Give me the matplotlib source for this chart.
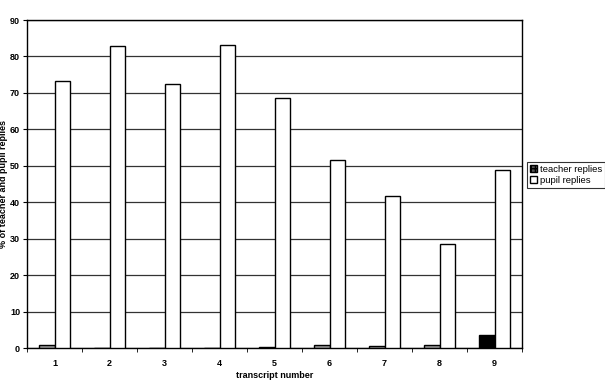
import matplotlib
matplotlib.use("Agg")
import matplotlib.pyplot as plt
import numpy as np

plt.rcParams['font.family'] = ['Liberation Sans', 'DejaVu Sans']

categories = ['1', '2', '3', '4', '5', '6', '7', '8', '9']
teacher = [0.8, 0.0, 0.0, 0.0, 0.3, 0.8, 0.5, 0.7, 3.7]
pupil = [73.2, 82.8, 72.4, 83.2, 68.5, 51.7, 41.8, 28.5, 48.9]
yticks = [0, 10, 20, 30, 40, 50, 60, 70, 80, 90]

fig = plt.figure(figsize=(6.05, 3.8), dpi=100)
ax = fig.add_axes([27/605, 1-348/380, (522-27)/605, (348-20)/380])

x = np.arange(len(categories))
w = 0.29
tcolors = ['#999999'] * 8 + ['#000000']
ax.bar(x - w/2, teacher, w, color=tcolors, edgecolor='black', linewidth=1.0, zorder=3,
       label='teacher replies')
ax.bar(x + w/2, pupil, w, color='white', edgecolor='black', linewidth=1.0, zorder=3,
       label='pupil replies')

ax.set_xlim(-0.5, len(categories) - 0.5)
ax.set_ylim(0, 90)
ax.set_yticks(yticks)
ax.set_yticklabels([str(v) for v in yticks], fontsize=6.5, fontweight='bold')
ax.set_xticks(x)
ax.set_xticklabels(categories, fontsize=6.5, fontweight='bold')
ax.tick_params(axis='x', length=0, pad=8)
ax.set_xticks(np.arange(-0.5, len(categories), 1), minor=True)
ax.tick_params(axis='x', which='minor', length=3, direction='out')
ax.tick_params(axis='y', length=3, direction='out', pad=2)
ax.yaxis.grid(True, color='#333333', linewidth=0.9, zorder=0)
ax.set_axisbelow(True)
for s in ax.spines.values():
    s.set_linewidth(1.0)
    s.set_color('black')

ax.set_xlabel('transcript number', fontsize=6.5, fontweight='bold')
ax.xaxis.set_label_coords(0.5, -0.07)
ax.xaxis.label.set_va('top')
ax.set_ylabel('% of teacher and pupil replies', fontsize=6.5, fontweight='bold')
ax.yaxis.set_label_coords(-0.038, 0.5)

leg = fig.legend(loc='upper left', bbox_to_anchor=(527/605, 1-162/380), fontsize=6.8,
                 frameon=True, fancybox=False, edgecolor='black', handlelength=0.8,
                 handleheight=0.8, handletextpad=0.3, borderpad=0.3, labelspacing=0.2,
                 borderaxespad=0)
leg.get_frame().set_linewidth(0.8)
leg.legend_handles[0].set_facecolor('#555555')
leg.legend_handles[0].set_hatch('++++')

fig.savefig('out.png', dpi=100)
